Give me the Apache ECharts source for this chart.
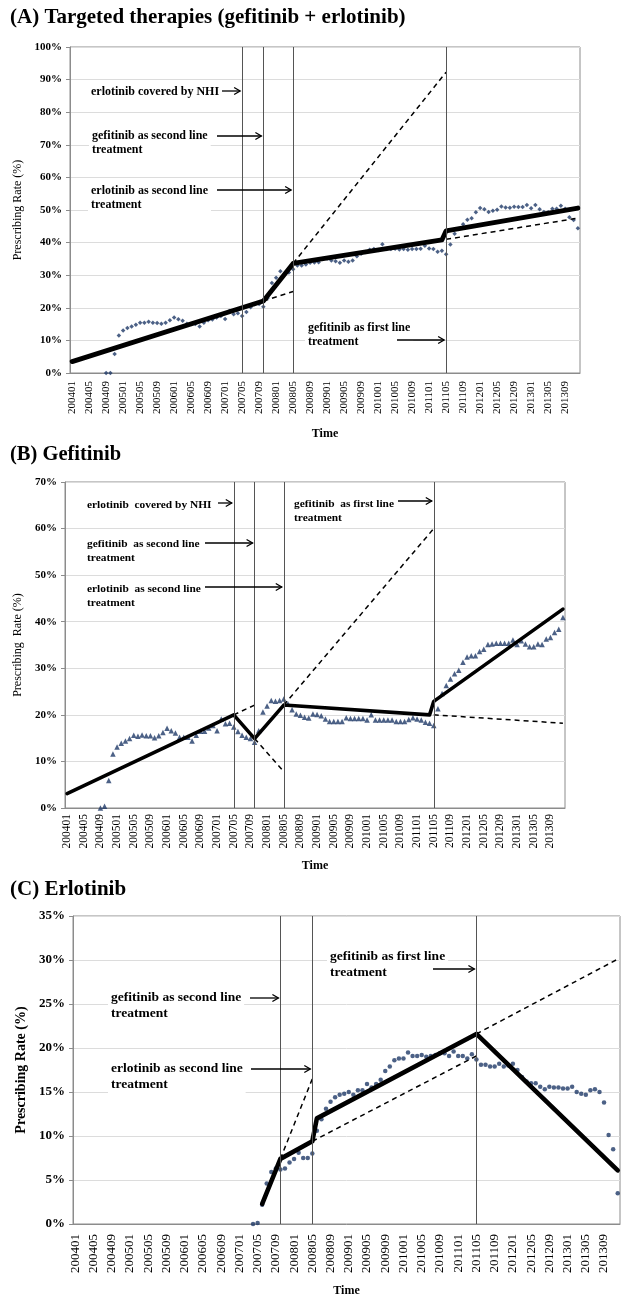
<!DOCTYPE html>
<html><head><meta charset="utf-8">
<script src="https://cdn.jsdelivr.net/npm/echarts@6/dist/echarts.min.js"></script>
<style>html,body{margin:0;padding:0;background:#fff}#c{width:621px;height:1298px}</style>
</head><body><div id="c"></div>
<script>
// ---- categories (monthly, 200401..201312) ----
const months = [];
for (let y = 2004; y <= 2013; y++) for (let m = 1; m <= 12; m++) months.push(String(y) + String(m).padStart(2, '0'));

// ---- observed prescribing rates (%) ----
const combinedRate = [
  null, null, null, null, null, null, null, null, 0, 0, 5.8, 11.5,
  13.0, 13.8, 14.3, 14.8, 15.4, 15.4, 15.7, 15.4, 15.3, 15.1, 15.4, 16.2,
  17.0, 16.5, 16.0, 15.1, 15.0, 15.0, 14.3, 15.4, 16.2, 16.4, 17.0, 17.5,
  16.6, 19.0, 18.0, 18.3, 17.5, 18.7, 20.2, 21.1, 21.2, 20.3, 23.0, 27.6,
  29.2, 31.2, 30.4, 30.8, 31.8, 33.0, 33.0, 33.3, 33.8, 33.9, 34.0, 35.0,
  35.1, 34.5, 34.3, 33.8, 34.5, 34.1, 34.5, 35.8, 36.6, 37.1, 37.8, 38.0,
  37.7, 39.5, 38.0, 38.0, 38.1, 37.9, 38.0, 37.8, 38.0, 38.0, 38.1, 39.0,
  38.2, 38.0, 37.2, 37.5, 36.4, 39.4, 42.7, 44.2, 45.6, 47.0, 47.5, 49.3,
  50.6, 50.2, 49.4, 49.8, 50.1, 51.1, 50.8, 50.7, 51.0, 50.9, 50.9, 51.5,
  50.5, 51.5, 50.2, 49.4, 49.3, 50.4, 50.4, 51.3, 50.4, 47.8, 46.9, 44.4
];
const gefitinibRate = [
  null, null, null, null, null, null, null, null, 0, 0.4, 5.9, 11.6,
  13.1, 13.9, 14.4, 14.9, 15.6, 15.4, 15.7, 15.5, 15.5, 15.1, 15.5, 16.2,
  17.1, 16.6, 16.1, 15.2, 15.2, 15.2, 14.4, 15.6, 16.5, 16.5, 17.2, 17.7,
  16.6, 19.1, 18.1, 18.2, 17.4, 16.4, 15.6, 15.2, 14.9, 14.1, 16.6, 20.6,
  21.9, 23.1, 22.9, 23.1, 23.4, 22.4, 21.1, 20.2, 19.9, 19.5, 19.3, 20.2,
  20.1, 19.8, 19.1, 18.6, 18.6, 18.6, 18.6, 19.4, 19.2, 19.2, 19.2, 19.2,
  18.9, 20.0, 18.9, 18.9, 18.9, 18.9, 18.9, 18.6, 18.6, 18.6, 19.0, 19.4,
  19.1, 18.9, 18.4, 18.2, 17.7, 21.3, 24.6, 26.3, 27.7, 28.8, 29.6, 31.3,
  32.4, 32.7, 32.7, 33.6, 34.1, 35.1, 35.2, 35.4, 35.4, 35.4, 35.4, 36.1,
  35.1, 35.9, 35.2, 34.6, 34.6, 35.2, 35.1, 36.3, 36.6, 37.7, 38.4, 40.9
];
const erlotinibRate = [
  null, null, null, null, null, null, null, null, null, null, null, null,
  null, null, null, null, null, null, null, null, null, null, null, null,
  null, null, null, null, null, null, null, null, null, null, null, null,
  null, null, null, 0, 0.1, 2.2, 4.6, 5.9, 6.3, 6.2, 6.3, 7.0,
  7.4, 8.1, 7.5, 7.5, 8.0, 10.6, 11.9, 13.1, 13.9, 14.4, 14.7, 14.8,
  15.0, 14.7, 15.2, 15.2, 15.9, 15.5, 15.9, 16.4, 17.4, 17.9, 18.6, 18.8,
  18.8, 19.5, 19.1, 19.1, 19.2, 19.0, 19.1, 19.2, 19.4, 19.4, 19.1, 19.6,
  19.1, 19.1, 18.8, 19.3, 18.7, 18.1, 18.1, 17.9, 17.9, 18.2, 17.9, 18.0,
  18.2, 17.5, 16.7, 16.2, 16.0, 16.0, 15.6, 15.3, 15.6, 15.5, 15.5, 15.4,
  15.4, 15.6, 15.0, 14.8, 14.7, 15.2, 15.3, 15.0, 13.8, 10.1, 8.5, 3.5
];

// ---- segmented regression (solid) and counterfactual (dashed) lines ----
const trendA = [['200401', 3.5], ['200710', 22.1], ['200805', 33.6], ['201104', 40.8], ['201105', 43.6], ['201312', 50.6]];
const counterA = [
  [['200710', 22.1], ['200805', 25.0]],
  [['200805', 33.6], ['201105', 92.3]],
  [['201105', 41.0], ['201312', 47.5]]
];
const trendB = [['200401', 3.1], ['200705', 20.0], ['200710', 14.9], ['200805', 22.1], ['201104', 20.0], ['201105', 22.9], ['201312', 42.7]];
const counterB = [
  [['200705', 20.0], ['200710', 22.1]],
  [['200710', 14.9], ['200805', 7.8]],
  [['200805', 22.1], ['201105', 60.0]],
  [['201105', 20.0], ['201312', 18.2]]
];
const trendC = [['200706', 2.3], ['200710', 7.4], ['200805', 9.4], ['200806', 12.0], ['201105', 21.6], ['201312', 6.1]];
const counterC = [
  [['200710', 7.4], ['200805', 16.5]],
  [['200805', 9.4], ['201105', 19.1]],
  [['201105', 21.6], ['201312', 30.1]]
];

// ---- policy events ----
const eventsAB = ['200705', '200710', '200805', '201105'];
const eventsC = ['200710', '200805', '201105'];

const titles = ['(A) Targeted therapies (gefitinib + erlotinib)', '(B) Gefitinib', '(C) Erlotinib'];
const annotA = [
  {text: 'erlotinib covered by NHI', ev: '200705'},
  {text: 'gefitinib as second line\ntreatment', ev: '200710'},
  {text: 'erlotinib as second line\ntreatment', ev: '200805'},
  {text: 'gefitinib as first line\ntreatment', ev: '201105'}
];
const annotB = [
  {text: 'erlotinib  covered by NHI', ev: '200705'},
  {text: 'gefitinib  as second line\ntreatment', ev: '200710'},
  {text: 'erlotinib  as second line\ntreatment', ev: '200805'},
  {text: 'gefitinib  as first line\ntreatment', ev: '201105'}
];
const annotC = [
  {text: 'gefitinib as second line\ntreatment', ev: '200710'},
  {text: 'erlotinib as second line\ntreatment', ev: '200805'},
  {text: 'gefitinib as first line\ntreatment', ev: '201105'}
];

// ---- layout (pixels) ----
const SERIF = '"Liberation Serif", "Times New Roman", serif';
const panels = [
  {grid: {left: 70, right: 41, top: 47, height: 326}, ymax: 100, yint: 10, pts: combinedRate, sym: 'diamond', size: 4.5,
   trend: trendA, tw: 4.8, counters: counterA, events: eventsAB, ylab: 11, xlab: 11, xmargin: 8, nameGap: 55, yname: 'Prescribing Rate (%)', ynameSize: 12, ynameGap: 42, ynameBold: 'normal',
   title: {x: 10, y: 7, size: 21},
   ann: annotA, annPos: [[88, 84, 222, 91], [89, 128, 217, 136], [88, 183, 217, 190], [305, 320, 397, 340]], annSize: 12, annLH: 14},
  {grid: {left: 65, right: 56, top: 482, height: 326}, ymax: 70, yint: 10, pts: gefitinibRate, sym: 'triangle', size: 5.5,
   trend: trendB, tw: 3.6, counters: counterB, events: eventsAB, ylab: 11, xlab: 11.5, xmargin: 6, nameGap: 52, yname: 'Prescribing  Rate (%)', ynameSize: 12, ynameGap: 40, ynameBold: 'normal',
   title: {x: 10, y: 444, size: 20.5},
   ann: annotB, annPos: [[84, 497, 218, 503], [84, 536, 205, 543], [84, 581, 205, 587], [291, 496, 398, 501]], annSize: 11.4, annLH: 14},
  {grid: {left: 73, right: 1, top: 916, height: 316}, ymax: 35, yint: 5, pts: erlotinibRate, sym: 'circle', size: 4.5,
   trend: trendC, tw: 4.6, counters: counterC, events: eventsC, ylab: 13, xlab: 13, xmargin: 10, nameGap: 61, yname: 'Prescribing Rate (%)', ynameSize: 14, ynameGap: 38, ynameBold: 'bold',
   title: {x: 10, y: 879, size: 21},
   ann: annotC, annPos: [[108, 989, 250, 998], [108, 1060, 251, 1069], [327, 948, 433, 969]], annSize: 13.5, annLH: 15.5}
];

const grids = [], xAxes = [], yAxes = [], series = [];
panels.forEach((p, k) => {
  grids.push(Object.assign({show: true, borderColor: '#8c8c8c', borderWidth: 1, backgroundColor: 'transparent'}, p.grid));
  xAxes.push({
    type: 'category', gridIndex: k, data: months, boundaryGap: true,
    name: 'Time', nameLocation: 'middle', nameGap: p.nameGap,
    nameTextStyle: {fontFamily: SERIF, fontWeight: 'bold', fontSize: 12, color: '#000'},
    axisLine: {show: true, lineStyle: {color: '#8c8c8c', width: 1}},
    axisTick: {show: false},
    axisLabel: {interval: 3, rotate: 90, margin: p.xmargin, fontFamily: SERIF, fontSize: p.xlab, color: '#000'},
    splitLine: {show: false}
  });
  yAxes.push({
    type: 'value', gridIndex: k, min: 0, max: p.ymax, interval: p.yint,
    name: p.yname, nameLocation: 'middle', nameGap: p.ynameGap,
    nameTextStyle: {fontFamily: SERIF, fontSize: p.ynameSize, fontWeight: p.ynameBold, color: '#000'},
    axisLine: {show: true, lineStyle: {color: '#8c8c8c'}},
    axisTick: {show: true, length: 4, lineStyle: {color: '#8c8c8c'}},
    axisLabel: {formatter: '{value}%', fontFamily: SERIF, fontWeight: 'bold', fontSize: p.ylab, color: '#000', margin: 8},
    splitLine: {show: true, lineStyle: {color: '#dcdcdc', width: 1}}
  });
  series.push({
    type: 'scatter', xAxisIndex: k, yAxisIndex: k, z: 2,
    data: p.pts.map(v => v === null ? '-' : v),
    symbol: p.sym, symbolSize: p.size,
    itemStyle: {color: '#1f3a68'},
    markLine: {
      silent: true, symbol: ['none', 'none'], label: {show: false},
      lineStyle: {color: '#555', width: 1, type: 'solid'},
      emphasis: {disabled: true},
      data: p.events.map(e => ({xAxis: e}))
    }
  });
  series.push({
    type: 'line', xAxisIndex: k, yAxisIndex: k, z: 4, data: p.trend, symbol: 'none',
    lineStyle: {color: '#000', width: p.tw, cap: 'round', join: 'round'}
  });
  p.counters.forEach(c => series.push({
    type: 'line', xAxisIndex: k, yAxisIndex: k, z: 3, data: c, symbol: 'none',
    lineStyle: {color: '#000', width: 1.5, type: [5, 4]}
  }));
});

const chart = echarts.init(document.getElementById('c'), null, {renderer: 'canvas'});
chart.setOption({animation: false, grid: grids, xAxis: xAxes, yAxis: yAxes, series: series});

// annotations (text boxes + arrows pointing to the policy lines)
const graphics = [];
panels.forEach((p, k) => {
  graphics.push({type: 'text', x: p.title.x, y: p.title.y, z: 20,
    style: {text: titles[k], font: 'bold ' + p.title.size + 'px ' + SERIF, fill: '#000', verticalAlign: 'top'}});
  p.ann.forEach((a, j) => {
    const [tx, ty, ax, ay] = p.annPos[j];
    const lineX = chart.convertToPixel({xAxisIndex: k}, months.indexOf(a.ev));
    const tip = lineX - 2;
    graphics.push({type: 'text', x: tx, y: ty, z: 20,
      style: {text: a.text, font: 'bold ' + p.annSize + 'px ' + SERIF, fill: '#000', lineHeight: p.annLH,
        verticalAlign: 'top', backgroundColor: '#fff', padding: [1, 3, 1, 3]}});
    graphics.push({type: 'line', z: 21, shape: {x1: ax, y1: ay, x2: tip, y2: ay}, style: {stroke: '#000', lineWidth: 1.3}});
    graphics.push({type: 'polyline', z: 21, shape: {points: [[tip - 6, ay - 3.5], [tip, ay], [tip - 6, ay + 3.5]]},
      style: {stroke: '#000', lineWidth: 1.3, fill: null}});
  });
});
chart.setOption({graphic: graphics});
</script>
</body></html>
